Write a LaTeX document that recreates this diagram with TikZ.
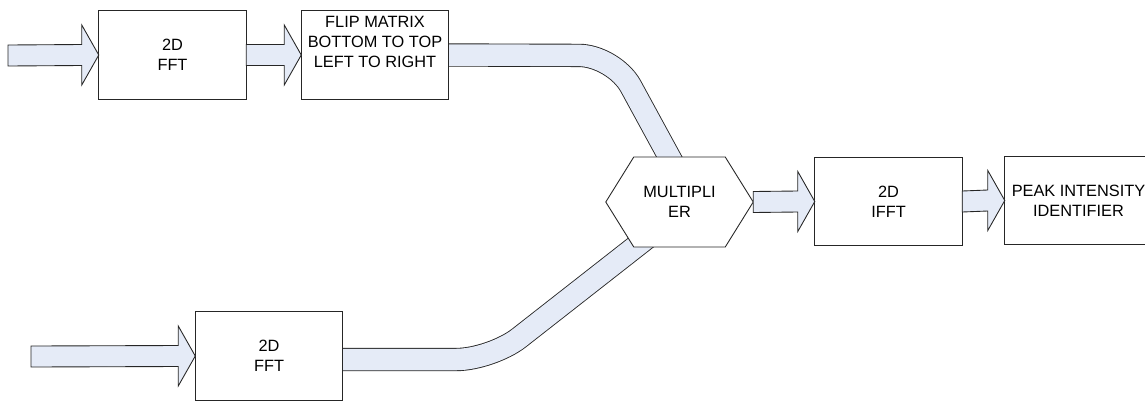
\documentclass[tikz,border=0pt]{standalone}
\usepackage{fontspec}
\setmainfont{Liberation Sans}
\usetikzlibrary{calc,backgrounds}
\definecolor{bleupale}{RGB}{229,235,247}

\begin{document}
\begin{tikzpicture}[x=0.02cm,y=-0.02cm,
  bloc/.style={draw=black!85,fill=white,line width=0.5pt,minimum width=2.95cm,minimum height=1.77cm,
    align=center,inner sep=0pt,outer sep=0pt,font=\fontsize{9.3}{11.4}\selectfont},
  fleche/.style={draw=black!85,fill=bleupale,line width=0.5pt},
  bande/.style={draw=black!85,double=bleupale,double distance=0.43cm,line width=0.5pt,rounded corners=0.7cm}]
  % Paramètres des grosses flèches (en pixels)
  \def\ep{10.5} % demi-largeur du corps
  \def\et{30} % demi-largeur de la tête
  \def\lt{17} % longueur de la tête
  \def\flechepleine#1#2{%
    \draw[fleche] ($(#1)+(0,-\ep)$) -- ($(#2)+(-\lt,-\ep)$) -- ($(#2)+(-\lt,-\et)$) -- (#2)
      -- ($(#2)+(-\lt,\et)$) -- ($(#2)+(-\lt,\ep)$) -- ($(#1)+(0,\ep)$) -- cycle;}

  \useasboundingbox (0,0) rectangle (1145,403);

  % Dessin des blocs
  \node[bloc] (fft1) at (172.5,55) {2D\\FFT};
  \node[bloc] (flip) at (375,55) {FLIP MATRIX\\BOTTOM TO TOP\\LEFT TO RIGHT\\\strut};
  \node[bloc] (fft2) at (269,356) {2D\\FFT};
  \node[bloc,draw=none,fill=none,minimum height=1.8cm] (mult) at (679.5,202) {MULTIPLI\\ER};
  \node[bloc] (ifft) at (888.5,201.5) {2D\\IFFT};
  \node[bloc] (pic) at (1078.5,200.5) {PEAK INTENSITY\\IDENTIFIER};

  % Entrées
  \coordinate (e1) at (8,55.5);
  \coordinate (e2) at (31,356.5);

  % Bandes vers le multiplieur et hexagone par-dessus
  \begin{scope}[on background layer]
    \draw[bande] (flip.east) -- (614,55.5) -- (683.5,183);
    \draw[bande] ([yshift=-0.07cm]fft2.east) -- (491.5,359.5) -- (666.5,222.5);
    \filldraw[draw=black!85,fill=white,line width=0.5pt] (mult.west) -- ([xshift=0.56cm]mult.north west)
      -- ([xshift=-0.56cm]mult.north east) -- (mult.east) -- ([xshift=-0.56cm]mult.south east)
      -- ([xshift=0.56cm]mult.south west) -- cycle;
  \end{scope}

  % Dessin des grosses flèches
  \flechepleine{e1}{fft1.west}
  \flechepleine{fft1.east}{flip.west}
  \flechepleine{e2}{fft2.west}
  \flechepleine{mult.east}{ifft.west}
  \flechepleine{ifft.east}{pic.west}
\end{tikzpicture}
\end{document}
